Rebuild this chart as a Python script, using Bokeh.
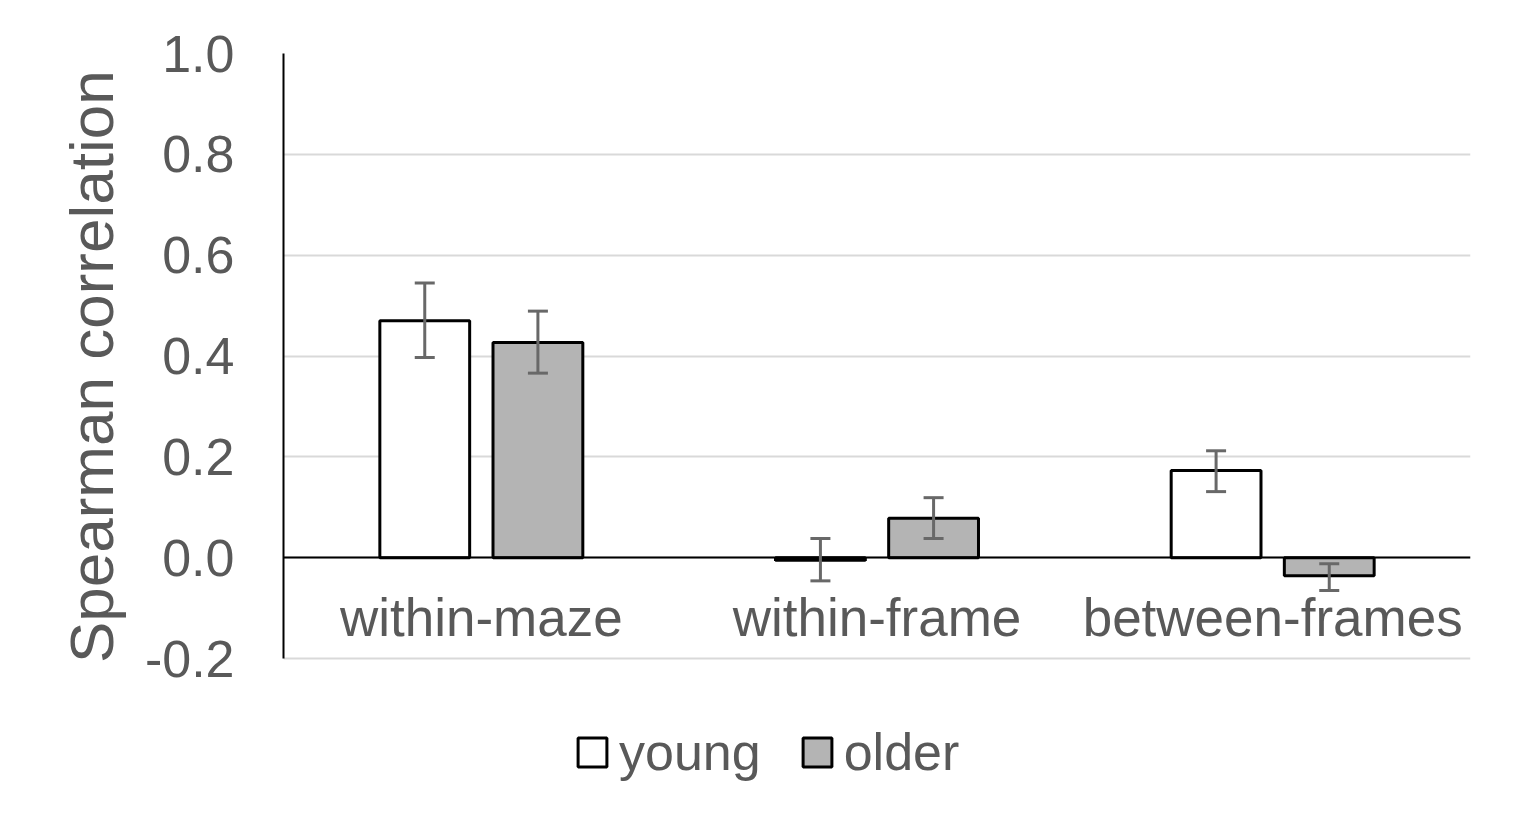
from bokeh.plotting import figure
from bokeh.models import (ColumnDataSource, FactorRange, Range1d, Whisker, TeeHead,
                          Legend, LegendItem, NumeralTickFormatter, FixedTicker)
from bokeh.transform import dodge
from bokeh.embed import file_html
from bokeh.resources import INLINE

categories = ["within-maze", "within-frame", "between-frames"]
young = [0.470, -0.005, 0.173]
older = [0.427, 0.078, -0.036]
young_lo = [0.397, -0.046, 0.131]
young_hi = [0.545, 0.038, 0.212]
older_lo = [0.366, 0.038, -0.065]
older_hi = [0.489, 0.119, -0.012]
y_ticks = [-0.2, 0.0, 0.2, 0.4, 0.6, 0.8, 1.0]
y_min, y_max = -0.2, 1.0
y_title = "Spearman correlation"

FONT = "Liberation Sans"
TXT = "#595959"

# layout in screen px (frame from top 53 to bottom 800; data span -0.2..1.0 = 605 px)
W, H = 1508, 811
TOP, BOTTOM, LEFT, RIGHT = 53, 11, 283, 38
frame_h = H - TOP - BOTTOM
px_per_unit = 605 / (y_max - y_min)
y_start = y_max - frame_h / px_per_unit

src = ColumnDataSource(dict(cat=categories, young=young, older=older,
                            ylo=young_lo, yhi=young_hi, olo=older_lo, ohi=older_hi))

p = figure(width=W, height=H, x_range=FactorRange(*categories),
           y_range=Range1d(y_start, y_max), output_backend="svg", toolbar_location=None,
           x_axis_location="above",
           min_border_left=LEFT, min_border_right=RIGHT, min_border_top=TOP, min_border_bottom=BOTTOM)
p.outline_line_color = None
p.background_fill_color = "white"
p.border_fill_color = "white"

off = 0.143
w = 0.227
r_y = p.vbar(x=dodge("cat", -off, range=p.x_range), top="young", bottom=0, width=w, source=src,
             fill_color="white", line_color="black", line_width=3)
r_o = p.vbar(x=dodge("cat", off, range=p.x_range), top="older", bottom=0, width=w, source=src,
             fill_color="#b4b4b4", line_color="black", line_width=3)

ecol = "#686868"
for base, lo, hi in [(dodge("cat", -off, range=p.x_range), "ylo", "yhi"),
                     (dodge("cat", off, range=p.x_range), "olo", "ohi")]:
    wk = Whisker(base=base, lower=lo, upper=hi, source=src, line_color=ecol, line_width=3,
                 upper_head=TeeHead(size=20, line_color=ecol, line_width=3),
                 lower_head=TeeHead(size=20, line_color=ecol, line_width=3),
                 level="overlay")
    p.add_layout(wk)

# y axis
p.yaxis.bounds = (y_min, y_max)
p.yaxis.ticker = FixedTicker(ticks=y_ticks)
p.yaxis.formatter = NumeralTickFormatter(format="0.0")
p.yaxis.major_tick_line_color = None
p.yaxis.minor_tick_line_color = None
p.yaxis.axis_line_color = "black"
p.yaxis.axis_line_width = 2
p.yaxis.major_label_text_font = FONT
p.yaxis.major_label_text_font_size = "52px"
p.yaxis.major_label_text_color = TXT
p.yaxis.major_label_standoff = 43
# leading no-break spaces shift the centred title up to the middle of the bounded axis
p.yaxis.axis_label = "\u00a0" * 7 + y_title
p.yaxis.axis_label_text_font = FONT
p.yaxis.axis_label_text_font_size = "62px"
p.yaxis.axis_label_text_font_style = "normal"
p.yaxis.axis_label_text_color = TXT
p.yaxis.axis_label_standoff = 16

# x axis at zero, labels below the line
p.xaxis.fixed_location = 0
p.xaxis.major_tick_line_color = None
p.xaxis.minor_tick_line_color = None
p.xaxis.axis_line_color = "black"
p.xaxis.axis_line_width = 2
p.xaxis.major_label_text_font = FONT
p.xaxis.major_label_text_font_size = "53px"
p.xaxis.major_label_text_color = TXT
p.xaxis.major_label_standoff = -95

p.xgrid.grid_line_color = None
p.ygrid.grid_line_color = "#d9d9d9"
p.ygrid.grid_line_width = 2
p.ygrid.ticker = FixedTicker(ticks=y_ticks)

legend = Legend(items=[LegendItem(label="young", renderers=[r_y]),
                       LegendItem(label="older", renderers=[r_o])],
                orientation="horizontal", location=(291, 18),
                glyph_width=36, glyph_height=36, label_standoff=9, spacing=38,
                label_text_font=FONT, label_text_font_size="52px", label_text_color=TXT,
                background_fill_alpha=0, border_line_alpha=0, padding=0, margin=0)
p.add_layout(legend, "center")

open("out.html", "w").write(file_html(p, INLINE))
